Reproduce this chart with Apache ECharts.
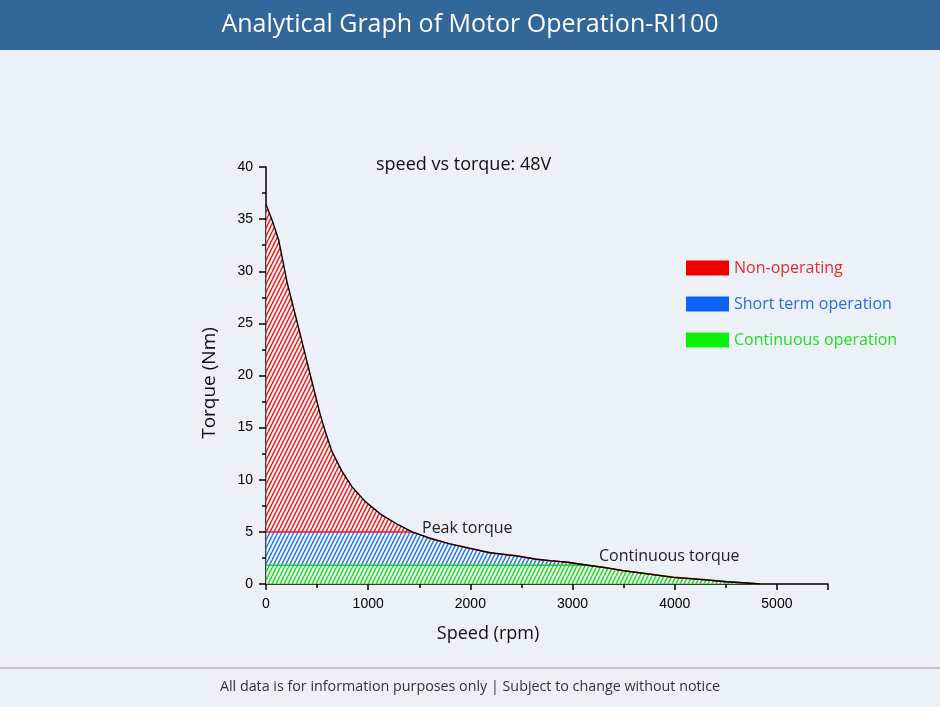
<!DOCTYPE html>
<html>
<head>
<meta charset="utf-8">
<script src="https://cdn.jsdelivr.net/npm/echarts@6/dist/echarts.min.js"></script>
<style>
  html, body { margin: 0; padding: 0; background: #ecf1f8; }
  #chart { width: 940px; height: 707px; }
</style>
</head>
<body>
<div id="chart"></div>
<script>
// speed (rpm) / torque (Nm)
var speed = [0, 60, 124, 205, 287, 369, 450, 532, 581, 646, 744, 841, 972, 1135, 1298, 1430, 1608, 1800, 1996, 2192, 2450, 2648, 2779, 2950, 3150, 3300, 3496, 3750, 3985, 4116, 4300, 4508, 4700, 4834]
var torque = [36.4, 34.9, 33.0, 29.0, 25.8, 22.6, 19.4, 16.2, 14.6, 12.7, 10.8, 9.33, 7.9, 6.6, 5.66, 5.0, 4.38, 3.85, 3.42, 3.0, 2.7, 2.37, 2.24, 2.08, 1.8, 1.6, 1.28, 0.95, 0.64, 0.54, 0.4, 0.22, 0.1, 0]
var peakTorque = 5
var contTorque = 1.8
var xTicks = [0, 1000, 2000, 3000, 4000, 5000]
var yTicks = [0, 5, 10, 15, 20, 25, 30, 35, 40]

// hatch pattern
function hatch (color) {
  var c = document.createElement('canvas')
  c.width = 4
  c.height = 8
  var ctx = c.getContext('2d')
  ctx.fillStyle = 'rgba(255,255,255,0.7)'
  ctx.fillRect(0, 0, 4, 8)
  ctx.strokeStyle = color
  ctx.lineWidth = 1.6
  for (var k = -1; k <= 1; k++) {
    ctx.beginPath()
    ctx.moveTo(k * 4, 8)
    ctx.lineTo(k * 4 + 4, 0)
    ctx.stroke()
  }
  return { image: c, repeat: 'repeat' }
}

var curve = [], peakLine = [], contLine = []
for (var i = 0; i < speed.length; i++) {
  curve.push([speed[i], torque[i]])
  peakLine.push([speed[i], Math.min(torque[i], peakTorque)])
  contLine.push([speed[i], Math.min(torque[i], contTorque)])
}
var zero = speed.map(function (s) { return [s, 0] })

// band between two lines, as one polygon
function band (top, bottom, fill) {
  return function (params, api) {
    if (params.dataIndex !== 0) return
    var pts = top.map(function (p) { return api.coord(p) })
    for (var j = bottom.length - 1; j >= 0; j--) pts.push(api.coord(bottom[j]))
    return { type: 'polygon', shape: { points: pts }, style: { fill: fill, stroke: null } }
  }
}

var chart = echarts.init(document.getElementById('chart'))
var font = '"Open Sans", "Noto Sans", sans-serif'
var option = {
  backgroundColor: '#ecf1f8',
  animation: false,
  title: {
    text: 'speed vs torque: 48V',
    left: 371,
    top: 151,
    textStyle: { fontFamily: font, fontSize: 18, fontWeight: 'normal', color: '#111' }
  },
  legend: {
    orient: 'vertical',
    left: 681,
    top: 255,
    itemWidth: 43,
    itemHeight: 15,
    itemGap: 20,
    icon: 'rect',
    selectedMode: false,
    textStyle: { fontFamily: font, fontSize: 16 },
    data: [
      { name: 'Non-operating', itemStyle: { color: '#ee0000' }, textStyle: { color: '#e82a2a' } },
      { name: 'Short term operation', itemStyle: { color: '#0a64f5' }, textStyle: { color: '#2a6ae8' } },
      { name: 'Continuous operation', itemStyle: { color: '#0bf00b' }, textStyle: { color: '#22dd22' } }
    ]
  },
  grid: { left: 266, right: 112, top: 167, bottom: 123 },
  xAxis: {
    type: 'value',
    min: 0,
    max: 5500,
    interval: 1000,
    axisLine: { lineStyle: { color: '#000', width: 1.5 } },
    axisTick: { show: true, length: 6, lineStyle: { color: '#000', width: 1.5 } },
    minorTick: { show: true, splitNumber: 2, length: 4, lineStyle: { color: '#000', width: 1.5 } },
    splitLine: { show: false },
    axisLabel: {
      showMaxLabel: false,
      fontFamily: 'Liberation Sans, Arial, sans-serif',
      fontSize: 14,
      color: '#000',
      margin: 13,
      formatter: function (v) { return xTicks.indexOf(v) >= 0 ? String(v) : '' }
    }
  },
  yAxis: {
    type: 'value',
    min: 0,
    max: 40,
    interval: 5,
    axisLine: { show: true, lineStyle: { color: '#000', width: 1.5 } },
    axisTick: { show: true, length: 7, lineStyle: { color: '#000', width: 1.5 } },
    minorTick: { show: true, splitNumber: 2, length: 4, lineStyle: { color: '#000', width: 1.5 } },
    splitLine: { show: false },
    axisLabel: {
      fontFamily: 'Liberation Sans, Arial, sans-serif',
      fontSize: 14,
      color: '#000',
      margin: 13,
      formatter: function (v) { return yTicks.indexOf(v) >= 0 ? String(v) : '' }
    }
  },
  series: [{
    name: 'Continuous operation',
    type: 'custom',
    data: [0],
    renderItem: band(contLine, zero, hatch('#22dd22')),
    z: 2
  }, {
    name: 'Short term operation',
    type: 'custom',
    data: [0],
    renderItem: band(peakLine, contLine, hatch('#2a7aee')),
    z: 2
  }, {
    name: 'Non-operating',
    type: 'custom',
    data: [0],
    renderItem: band(curve, peakLine, hatch('#ee2222')),
    z: 2
  }, {
    name: 'Continuous line',
    type: 'line',
    data: contLine,
    symbol: 'none',
    lineStyle: { color: '#22cc22', width: 1.5 },
    z: 3
  }, {
    name: 'Peak line',
    type: 'line',
    data: peakLine,
    symbol: 'none',
    lineStyle: { color: '#ff1a1a', width: 1.5 },
    z: 3
  }, {
    name: 'Torque',
    type: 'line',
    data: curve,
    symbol: 'none',
    lineStyle: { color: '#000', width: 1.4 },
    z: 4
  }],
  graphic: [
    { type: 'rect', shape: { x: 0, y: 0, width: 940, height: 50 }, style: { fill: '#336699' } },
    { type: 'text', x: 470, y: 25, style: { text: 'Analytical Graph of Motor Operation-RI100', fill: '#fff', font: '25px ' + font, textAlign: 'center', textVerticalAlign: 'middle' } },
    { type: 'text', x: 422, y: 528, style: { text: 'Peak torque', fill: '#222', font: '16px ' + font, textVerticalAlign: 'middle' } },
    { type: 'text', x: 599, y: 556, style: { text: 'Continuous torque', fill: '#222', font: '16px ' + font, textVerticalAlign: 'middle' } },
    { type: 'text', x: 488, y: 634, style: { text: 'Speed (rpm)', fill: '#111', font: '18px ' + font, textAlign: 'center', textVerticalAlign: 'middle' } },
    { type: 'text', x: 210, y: 383, rotation: Math.PI / 2, style: { text: 'Torque (Nm)', fill: '#111', font: '19px ' + font, textAlign: 'center', textVerticalAlign: 'middle' } },
    { type: 'line', shape: { x1: 0, y1: 668, x2: 940, y2: 668 }, style: { stroke: '#999', lineWidth: 1 } },
    { type: 'text', x: 470, y: 687, style: { text: 'All data is for information purposes only | Subject to change without notice', fill: '#333', font: '14.3px ' + font, textAlign: 'center', textVerticalAlign: 'middle' } }
  ]
}
chart.setOption(option)
window.addEventListener('resize', function () {
  chart.resize()
})
</script>
</body>
</html>
